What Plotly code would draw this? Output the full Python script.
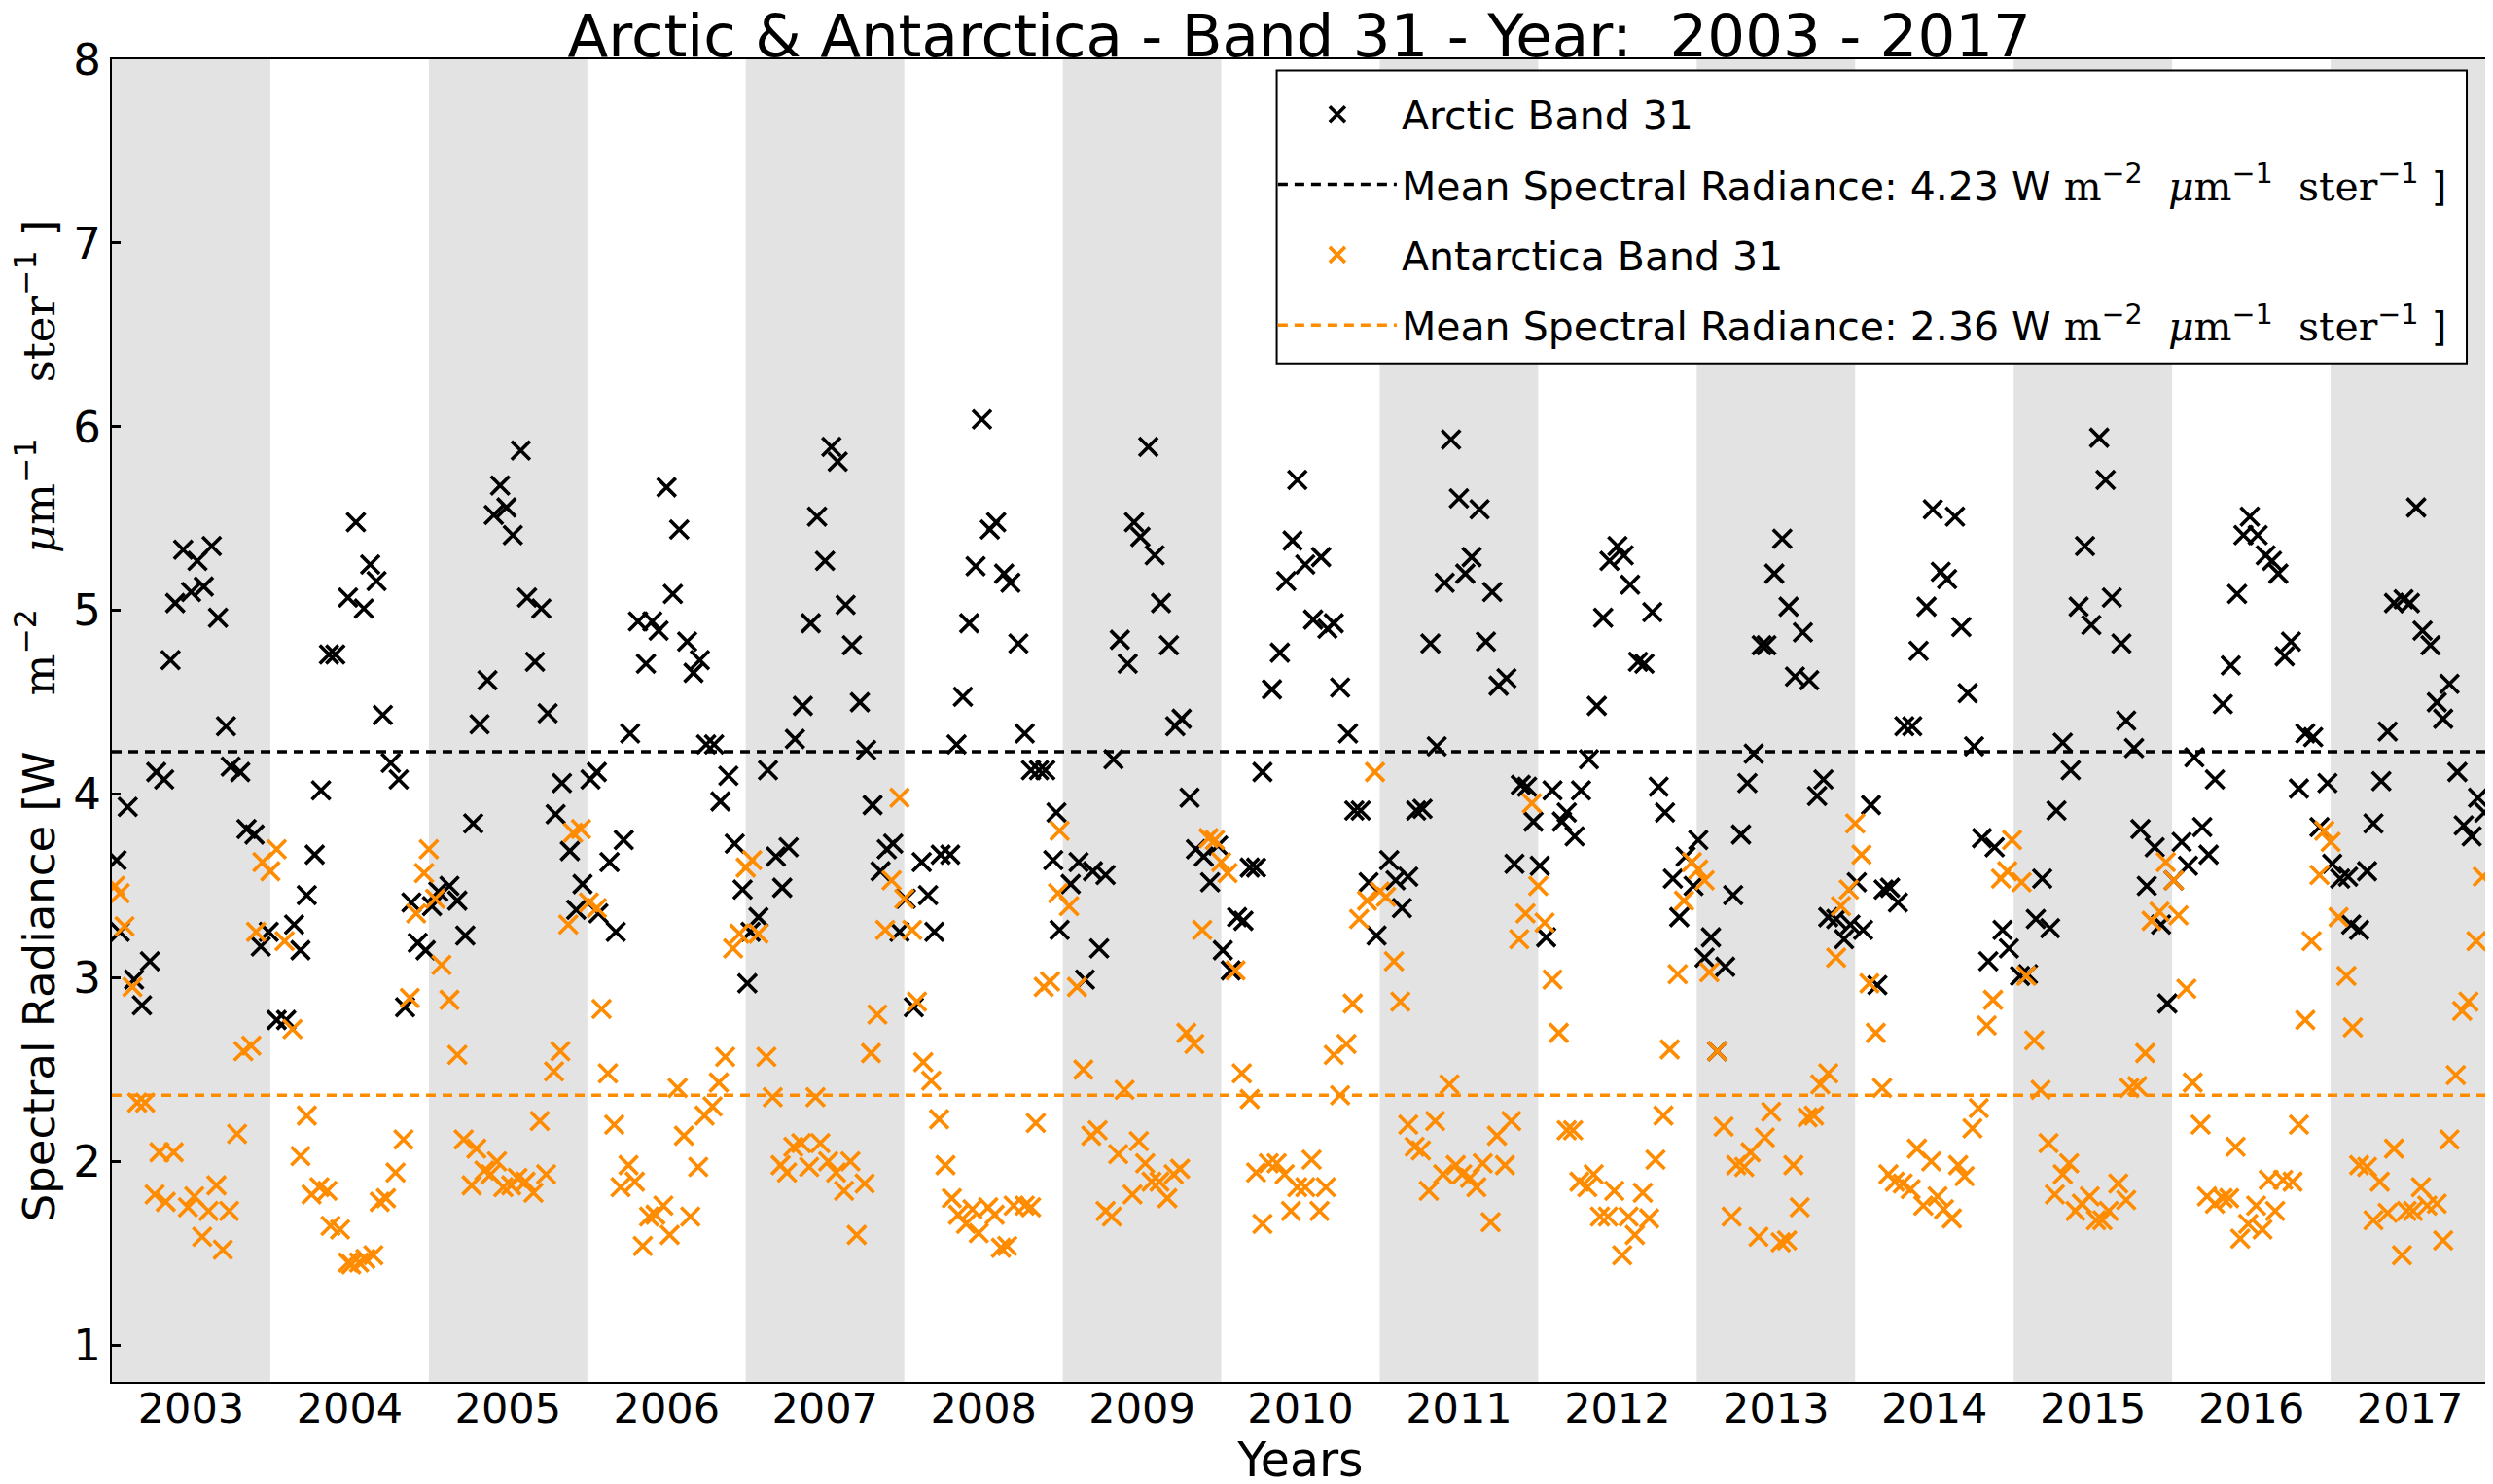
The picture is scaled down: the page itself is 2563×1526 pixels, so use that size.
import plotly.graph_objects as go

# ---------------- data ----------------
ARCTIC_X = [
    2003.03, 2003.05, 2003.10, 2003.14, 2003.19, 2003.24, 2003.28, 2003.33, 2003.37, 2003.40, 2003.45, 2003.50, 2003.54, 2003.58, 2003.63, 2003.67, 2003.72, 2003.75, 2003.81, 2003.85, 2003.90, 2003.94, 2003.99,
    2004.04, 2004.10, 2004.15, 2004.19, 2004.23, 2004.28, 2004.32, 2004.37, 2004.41, 2004.49, 2004.54, 2004.59, 2004.63, 2004.67, 2004.71, 2004.76, 2004.81, 2004.85, 2004.89, 2004.93, 2004.98,
    2005.02, 2005.06, 2005.13, 2005.18, 2005.23, 2005.28, 2005.32, 2005.37, 2005.41, 2005.45, 2005.49, 2005.53, 2005.58, 2005.62, 2005.67, 2005.71, 2005.75, 2005.80, 2005.84, 2005.89, 2005.93, 2005.97,
    2006.02, 2006.06, 2006.07, 2006.14, 2006.18, 2006.23, 2006.27, 2006.32, 2006.37, 2006.41, 2006.45, 2006.50, 2006.54, 2006.58, 2006.63, 2006.67, 2006.71, 2006.75, 2006.80, 2006.84, 2006.89, 2006.93, 2006.98,
    2007.01, 2007.03, 2007.08, 2007.14, 2007.19, 2007.23, 2007.27, 2007.31, 2007.36, 2007.41, 2007.45, 2007.50, 2007.54, 2007.58, 2007.63, 2007.67, 2007.72, 2007.76, 2007.80, 2007.85, 2007.89, 2007.93, 2007.97,
    2008.01, 2008.06, 2008.11, 2008.15, 2008.19, 2008.23, 2008.29, 2008.33, 2008.37, 2008.41, 2008.45, 2008.49, 2008.54, 2008.58, 2008.63, 2008.67, 2008.72, 2008.76, 2008.80, 2008.85, 2008.89, 2008.94, 2008.96, 2008.98,
    2009.05, 2009.10, 2009.14, 2009.19, 2009.23, 2009.27, 2009.32, 2009.36, 2009.41, 2009.45, 2009.49, 2009.54, 2009.58, 2009.62, 2009.67, 2009.71, 2009.75, 2009.80, 2009.84, 2009.89, 2009.93, 2009.98,
    2010.01, 2010.06, 2010.10, 2010.14, 2010.18, 2010.22, 2010.26, 2010.32, 2010.37, 2010.41, 2010.45, 2010.48, 2010.53, 2010.58, 2010.63, 2010.67, 2010.71, 2010.75, 2010.80, 2010.84, 2010.88, 2010.93, 2010.98,
    2011.06, 2011.10, 2011.14, 2011.18, 2011.23, 2011.27, 2011.32, 2011.36, 2011.41, 2011.45, 2011.50, 2011.54, 2011.58, 2011.63, 2011.67, 2011.71, 2011.75, 2011.80, 2011.85, 2011.89, 2011.93, 2011.97,
    2012.01, 2012.05, 2012.09, 2012.15, 2012.18, 2012.23, 2012.27, 2012.32, 2012.37, 2012.41, 2012.45, 2012.50, 2012.54, 2012.58, 2012.63, 2012.67, 2012.72, 2012.76, 2012.80, 2012.85, 2012.89, 2012.93, 2012.98,
    2013.01, 2013.05, 2013.09, 2013.13, 2013.18, 2013.23, 2013.28, 2013.32, 2013.36, 2013.41, 2013.44, 2013.49, 2013.54, 2013.58, 2013.62, 2013.67, 2013.71, 2013.76, 2013.80, 2013.83, 2013.88, 2013.93, 2013.97,
    2014.01, 2014.05, 2014.10, 2014.14, 2014.18, 2014.22, 2014.27, 2014.31, 2014.36, 2014.40, 2014.45, 2014.49, 2014.54, 2014.58, 2014.63, 2014.67, 2014.71, 2014.75, 2014.80, 2014.84, 2014.88, 2014.93, 2014.97,
    2015.04, 2015.09, 2015.14, 2015.18, 2015.23, 2015.27, 2015.31, 2015.36, 2015.41, 2015.45, 2015.49, 2015.54, 2015.58, 2015.62, 2015.68, 2015.71, 2015.76, 2015.80, 2015.84, 2015.89, 2015.93, 2015.97,
    2016.01, 2016.06, 2016.10, 2016.14, 2016.19, 2016.23, 2016.27, 2016.32, 2016.37, 2016.41, 2016.45, 2016.49, 2016.54, 2016.59, 2016.63, 2016.67, 2016.71, 2016.75, 2016.80, 2016.84, 2016.89, 2016.93, 2016.98,
    2017.01, 2017.06, 2017.11, 2017.13, 2017.18, 2017.23, 2017.27, 2017.32, 2017.36, 2017.40, 2017.46, 2017.50, 2017.54, 2017.58, 2017.63, 2017.67, 2017.71, 2017.75, 2017.80, 2017.84, 2017.89, 2017.93, 2017.97,
]
ARCTIC_Y = [
    3.64, 3.25, 3.93, 2.99, 2.85, 3.09, 4.12, 4.08, 4.73, 5.04, 5.33, 5.10, 5.27, 5.13, 5.35, 4.96, 4.37, 4.15, 4.12, 3.81, 3.78, 3.17, 3.25,
    2.77, 2.77, 3.29, 3.15, 3.45, 3.67, 4.02, 4.76, 4.76, 5.07, 5.48, 5.01, 5.25, 5.16, 4.43, 4.17, 4.08, 2.84, 3.41, 3.19, 3.15,
    3.39, 3.47, 3.50, 3.42, 3.23, 3.84, 4.38, 4.62, 5.52, 5.68, 5.56, 5.41, 5.87, 5.07, 4.72, 5.01, 4.44, 3.89, 4.06, 3.69, 3.37, 3.51,
    4.08, 4.12, 3.35, 3.63, 3.25, 3.75, 4.33, 4.94, 4.71, 4.94, 4.89, 5.67, 5.09, 5.44, 4.83, 4.66, 4.73, 4.27, 4.27, 3.96, 4.10, 3.73, 3.48,
    2.97, 3.25, 3.33, 4.13, 3.66, 3.49, 3.71, 4.30, 4.48, 4.93, 5.51, 5.27, 5.89, 5.81, 5.03, 4.81, 4.50, 4.24, 3.94, 3.58, 3.70, 3.73, 3.25,
    3.43, 2.84, 3.63, 3.45, 3.25, 3.67, 3.67, 4.27, 4.53, 4.93, 5.24, 6.04, 5.44, 5.48, 5.20, 5.15, 4.82, 4.33, 4.13, 4.13, 4.13, 3.64, 3.90, 3.26,
    3.51, 3.63, 2.99, 3.58, 3.16, 3.56, 4.19, 4.84, 4.71, 5.48, 5.40, 5.89, 5.30, 5.04, 4.81, 4.37, 4.41, 3.98, 3.70, 3.66, 3.52, 3.72,
    3.15, 3.04, 3.33, 3.31, 3.60, 3.60, 4.12, 4.57, 4.77, 5.16, 5.38, 5.71, 5.25, 4.95, 5.29, 4.90, 4.93, 4.58, 4.33, 3.91, 3.91, 3.52, 3.23,
    3.64, 3.53, 3.38, 3.55, 3.91, 3.92, 4.82, 4.26, 5.15, 5.93, 5.61, 5.20, 5.29, 5.55, 4.83, 5.10, 4.59, 4.63, 3.62, 4.05, 4.04, 3.85,
    3.61, 3.22, 4.02, 3.85, 3.90, 3.77, 4.02, 4.19, 4.48, 4.96, 5.27, 5.35, 5.30, 5.14, 4.72, 4.71, 4.99, 4.04, 3.90, 3.54, 3.33, 3.66, 3.50,
    3.75, 3.11, 3.22, 2.60, 3.06, 3.45, 3.78, 4.06, 4.22, 4.81, 4.81, 5.20, 5.39, 5.02, 4.64, 4.88, 4.62, 3.99, 4.08, 3.33, 3.32, 3.21, 3.29,
    3.52, 3.26, 3.94, 2.96, 3.48, 3.49, 3.41, 4.37, 4.37, 4.78, 5.02, 5.55, 5.21, 5.17, 5.51, 4.91, 4.55, 4.26, 3.76, 3.09, 3.71, 3.26, 3.16,
    3.01, 3.02, 3.32, 3.54, 3.27, 3.91, 4.28, 4.13, 5.02, 5.35, 4.92, 5.94, 5.71, 5.07, 4.82, 4.40, 4.25, 3.81, 3.50, 3.71, 3.29, 2.86,
    3.53, 3.74, 3.61, 4.20, 3.82, 3.67, 4.08, 4.49, 4.70, 5.09, 5.41, 5.51, 5.41, 5.30, 5.27, 5.20, 4.75, 4.83, 4.03, 4.33, 4.31, 3.82, 4.06,
    3.62, 3.54, 3.55, 3.29, 3.26, 3.58, 3.84, 4.07, 4.34, 5.04, 5.06, 5.04, 5.56, 4.89, 4.81, 4.50, 4.41, 4.60, 4.12, 3.83, 3.77, 3.98, 3.90,
]

ANTARCTICA_X = [
    2003.02, 2003.05, 2003.08, 2003.13, 2003.16, 2003.21, 2003.27, 2003.30, 2003.34, 2003.39, 2003.48, 2003.52, 2003.57, 2003.61, 2003.66, 2003.70, 2003.74, 2003.79, 2003.83, 2003.88, 2003.91, 2003.95,
    2004.00, 2004.04, 2004.09, 2004.14, 2004.19, 2004.23, 2004.26, 2004.31, 2004.36, 2004.38, 2004.44, 2004.49, 2004.51, 2004.56, 2004.60, 2004.65, 2004.69, 2004.73, 2004.79, 2004.84, 2004.88, 2004.92, 2004.97,
    2005.00, 2005.04, 2005.08, 2005.13, 2005.18, 2005.22, 2005.27, 2005.30, 2005.35, 2005.39, 2005.43, 2005.47, 2005.52, 2005.56, 2005.61, 2005.66, 2005.70, 2005.74, 2005.79, 2005.83, 2005.88, 2005.91, 2005.96,
    2006.01, 2006.06, 2006.09, 2006.13, 2006.17, 2006.21, 2006.26, 2006.30, 2006.35, 2006.39, 2006.43, 2006.48, 2006.52, 2006.57, 2006.61, 2006.65, 2006.70, 2006.74, 2006.79, 2006.83, 2006.87, 2006.92, 2006.96,
    2007.00, 2007.04, 2007.08, 2007.13, 2007.17, 2007.22, 2007.26, 2007.30, 2007.35, 2007.40, 2007.44, 2007.47, 2007.52, 2007.57, 2007.62, 2007.66, 2007.70, 2007.75, 2007.79, 2007.83, 2007.88, 2007.92, 2007.97,
    2008.00, 2008.05, 2008.08, 2008.12, 2008.17, 2008.22, 2008.26, 2008.30, 2008.34, 2008.39, 2008.43, 2008.47, 2008.53, 2008.57, 2008.61, 2008.65, 2008.69, 2008.76, 2008.80, 2008.83, 2008.88, 2008.92, 2008.97, 2008.98,
    2009.04, 2009.09, 2009.13, 2009.18, 2009.22, 2009.27, 2009.31, 2009.35, 2009.39, 2009.44, 2009.48, 2009.52, 2009.56, 2009.61, 2009.66, 2009.70, 2009.74, 2009.78, 2009.83, 2009.88, 2009.92, 2009.96,
    2010.00, 2010.04, 2010.09, 2010.13, 2010.18, 2010.22, 2010.26, 2010.30, 2010.35, 2010.40, 2010.44, 2010.48, 2010.53, 2010.57, 2010.62, 2010.66, 2010.71, 2010.75, 2010.79, 2010.83, 2010.87, 2010.92, 2010.97,
    2011.00, 2011.04, 2011.09, 2011.13, 2011.18, 2011.22, 2011.26, 2011.31, 2011.35, 2011.40, 2011.44, 2011.48, 2011.52, 2011.57, 2011.61, 2011.65, 2011.70, 2011.74, 2011.79, 2011.83, 2011.88, 2011.92, 2011.96,
    2012.00, 2012.04, 2012.09, 2012.13, 2012.18, 2012.22, 2012.26, 2012.31, 2012.35, 2012.39, 2012.44, 2012.48, 2012.53, 2012.57, 2012.61, 2012.66, 2012.70, 2012.74, 2012.79, 2012.83, 2012.88, 2012.92, 2012.97,
    2013.01, 2013.05, 2013.08, 2013.13, 2013.17, 2013.22, 2013.25, 2013.30, 2013.34, 2013.39, 2013.43, 2013.47, 2013.53, 2013.57, 2013.61, 2013.65, 2013.70, 2013.74, 2013.78, 2013.83, 2013.88, 2013.91, 2013.96,
    2014.00, 2014.04, 2014.09, 2014.13, 2014.17, 2014.21, 2014.25, 2014.30, 2014.35, 2014.39, 2014.43, 2014.48, 2014.52, 2014.56, 2014.61, 2014.65, 2014.69, 2014.74, 2014.78, 2014.83, 2014.87, 2014.92, 2014.96, 2014.99,
    2015.05, 2015.08, 2015.13, 2015.17, 2015.22, 2015.26, 2015.31, 2015.35, 2015.39, 2015.43, 2015.48, 2015.52, 2015.56, 2015.60, 2015.66, 2015.71, 2015.73, 2015.78, 2015.83, 2015.87, 2015.92, 2015.96,
    2016.01, 2016.04, 2016.09, 2016.13, 2016.18, 2016.22, 2016.27, 2016.32, 2016.36, 2016.40, 2016.43, 2016.48, 2016.53, 2016.57, 2016.61, 2016.65, 2016.70, 2016.76, 2016.80, 2016.84, 2016.88, 2016.93, 2016.96,
    2017.00, 2017.05, 2017.10, 2017.14, 2017.18, 2017.23, 2017.27, 2017.31, 2017.36, 2017.40, 2017.45, 2017.48, 2017.52, 2017.57, 2017.61, 2017.67, 2017.71, 2017.75, 2017.79, 2017.83, 2017.87, 2017.92, 2017.96,
]
ANTARCTICA_Y = [
    3.50, 3.46, 3.28, 2.95, 2.32, 2.32, 1.82, 2.05, 1.78, 2.05, 1.75, 1.81, 1.59, 1.73, 1.87, 1.52, 1.73, 2.15, 2.60, 2.63, 3.25, 3.63,
    3.58, 3.70, 3.20, 2.72, 2.03, 2.25, 1.82, 1.86, 1.84, 1.65, 1.63, 1.45, 1.44, 1.45, 1.47, 1.49, 1.78, 1.80, 1.94, 2.12, 2.89, 3.35, 3.57,
    3.70, 3.43, 3.07, 2.88, 2.58, 2.12, 1.87, 2.07, 1.95, 1.93, 2.00, 1.86, 1.87, 1.91, 1.89, 1.83, 2.22, 1.93, 2.49, 2.60, 3.29, 3.79, 3.81,
    3.41, 3.38, 2.83, 2.48, 2.20, 1.86, 1.98, 1.89, 1.54, 1.70, 1.71, 1.76, 1.60, 2.40, 2.14, 1.70, 1.97, 2.25, 2.30, 2.43, 2.57, 3.16, 3.24,
    3.60, 3.64, 3.24, 2.57, 2.35, 1.98, 1.94, 2.08, 2.10, 1.97, 2.35, 2.10, 2.00, 1.94, 1.84, 2.00, 1.60, 1.88, 2.59, 2.80, 3.26, 3.53, 3.98,
    3.43, 3.26, 2.87, 2.54, 2.44, 2.23, 1.98, 1.80, 1.71, 1.66, 1.74, 1.61, 1.75, 1.71, 1.53, 1.54, 1.76, 1.76, 1.75, 2.21, 2.95, 2.98, 3.46, 3.80,
    3.39, 2.95, 2.50, 2.14, 2.17, 1.73, 1.70, 2.04, 2.39, 1.82, 2.11, 1.99, 1.89, 1.89, 1.80, 1.93, 1.96, 2.70, 2.64, 3.26, 3.76, 3.75,
    3.63, 3.57, 3.04, 2.48, 2.34, 1.94, 1.66, 1.99, 1.99, 1.93, 1.73, 1.86, 1.86, 2.01, 1.73, 1.86, 2.58, 2.36, 2.64, 2.86, 3.32, 3.42, 4.12,
    3.47, 3.44, 3.09, 2.87, 2.20, 2.08, 2.06, 1.84, 2.22, 1.93, 2.42, 1.98, 1.93, 1.91, 1.86, 1.99, 1.67, 2.14, 1.98, 2.22, 3.21, 3.35, 3.95,
    3.50, 3.30, 2.99, 2.70, 2.17, 2.17, 1.89, 1.86, 1.93, 1.70, 1.70, 1.84, 1.49, 1.70, 1.60, 1.83, 1.69, 2.01, 2.25, 2.61, 3.02, 3.42, 3.63,
    3.59, 3.53, 3.03, 2.60, 2.19, 1.70, 1.98, 1.97, 2.05, 1.59, 2.13, 2.27, 1.56, 1.57, 1.98, 1.75, 2.24, 2.25, 2.42, 2.48, 3.11, 3.39, 3.48,
    3.84, 3.67, 2.97, 2.70, 2.40, 1.93, 1.89, 1.88, 1.85, 2.07, 1.76, 2.00, 1.81, 1.74, 1.69, 1.98, 1.92, 2.18, 2.29, 2.74, 2.88, 3.54, 3.58, 3.75,
    3.52, 3.01, 2.66, 2.39, 2.10, 1.82, 1.93, 1.99, 1.73, 1.77, 1.81, 1.68, 1.68, 1.73, 1.88, 1.79, 2.40, 2.41, 2.59, 3.31, 3.36, 3.63,
    3.53, 3.34, 2.94, 2.43, 2.20, 1.81, 1.77, 1.80, 1.80, 2.08, 1.58, 1.66, 1.76, 1.63, 1.90, 1.73, 1.90, 1.89, 2.20, 2.77, 3.20, 3.56, 3.80,
    3.74, 3.33, 3.01, 2.73, 1.98, 1.97, 1.68, 1.89, 1.72, 2.07, 1.49, 1.73, 1.73, 1.86, 1.76, 1.77, 1.57, 2.12, 2.47, 2.82, 2.87, 3.20, 3.55,
]

ARCTIC_MEAN = 4.23
ANTARCTICA_MEAN = 2.36

YEARS = list(range(2003, 2018))
YEAR_LABELS = [str(y) for y in YEARS]
SHADED_YEARS = [2003, 2005, 2007, 2009, 2011, 2013, 2015, 2017]
X_RANGE = [2003, 2018]
Y_RANGE = [0.8, 8]
Y_TICKS = [1, 2, 3, 4, 5, 6, 7, 8]

# ---------------- styling ----------------
FONT = "DejaVu Sans"
SERIF = "DejaVu Serif"
ORANGE = "#ff8c00"
BLACK = "#000000"


def serif(t):
    return '<span style="font-family:%s">%s</span>' % (SERIF, t)


UNIT = ("W " + serif("m") + "<sup>\u22122</sup>  " + serif("<i>\u03bc</i>m")
        + "<sup>\u22121</sup>  " + serif("ster") + "<sup>\u22121</sup> ]")
YLABEL = ("Spectral Radiance [W    " + serif("m") + "<sup>\u22122</sup>    "
          + serif("<i>\u03bc</i>m") + "<sup>\u22121</sup>    " + serif("ster")
          + "<sup>\u22121</sup> ]")

fig = go.Figure()

fig.add_trace(go.Scatter(
    x=ARCTIC_X, y=ARCTIC_Y, mode="markers", name="Arctic Band 31",
    legendgroup="a",
    marker=dict(symbol="x-thin", size=19, color=BLACK,
                line=dict(color=BLACK, width=3.6)),
))
fig.add_trace(go.Scatter(
    x=X_RANGE, y=[ARCTIC_MEAN, ARCTIC_MEAN], mode="lines",
    name="Mean Spectral Radiance: %.2f %s" % (ARCTIC_MEAN, UNIT),
    legendgroup="b",
    line=dict(color=BLACK, width=3.5, dash="10px,7px"),
))
fig.add_trace(go.Scatter(
    x=ANTARCTICA_X, y=ANTARCTICA_Y, mode="markers", name="Antarctica Band 31",
    legendgroup="c",
    marker=dict(symbol="x-thin", size=19, color=ORANGE,
                line=dict(color=ORANGE, width=3.6)),
))
fig.add_trace(go.Scatter(
    x=X_RANGE, y=[ANTARCTICA_MEAN, ANTARCTICA_MEAN], mode="lines",
    name="Mean Spectral Radiance: %.2f %s" % (ANTARCTICA_MEAN, UNIT),
    legendgroup="d",
    line=dict(color=ORANGE, width=3.5, dash="10px,7px"),
))

for yr in SHADED_YEARS:
    fig.add_shape(type="rect", xref="x", yref="paper", x0=yr, x1=yr + 1,
                  y0=0, y1=1, fillcolor="#e3e3e3", line=dict(width=0),
                  layer="below")

# legend frame (opaque white box with a black edge, like the reference)
fig.add_shape(type="rect", xref="paper", yref="paper",
              x0=0.490, x1=0.9906, y0=0.770, y1=0.9916,
              fillcolor="white", line=dict(color="black", width=2),
              layer="above")

fig.update_layout(
    width=2563, height=1526,
    margin=dict(l=107, r=10, t=53, b=113),
    paper_bgcolor="white", plot_bgcolor="white",
    font=dict(family=FONT, size=42, color="black"),
    title=dict(text="Arctic & Antarctica - Band 31 - Year:  2003 - 2017",
               x=0.518, xanchor="center", y=0.995, yanchor="top",
               font=dict(size=61, family=FONT)),
    showlegend=True,
    legend=dict(x=0.4885, y=0.983, xanchor="left", yanchor="top",
                bgcolor="rgba(0,0,0,0)", borderwidth=0,
                font=dict(size=41, family=FONT),
                traceorder="grouped", tracegroupgap=16,
                itemwidth=122),
)

fig.update_xaxes(
    range=X_RANGE, tickmode="array",
    tickvals=[y + 0.5 for y in YEARS], ticktext=YEAR_LABELS,
    showgrid=False, zeroline=False, ticks="",
    ticklabelstandoff=-12,
    showline=True, linecolor="black", linewidth=2, mirror=True,
    tickfont=dict(size=43, family=FONT),
    title=dict(text="Years", font=dict(size=49, family=FONT), standoff=4),
)
fig.update_yaxes(
    range=Y_RANGE, tickmode="array", tickvals=Y_TICKS,
    showgrid=False, zeroline=False,
    ticks="inside", ticklen=9, tickwidth=3, tickcolor="black",
    showline=True, linecolor="black", linewidth=2, mirror=True,
    tickfont=dict(size=45, family=FONT),
    title=dict(text=YLABEL, font=dict(size=45, family=FONT), standoff=10),
)

fig.write_html("out.html")
